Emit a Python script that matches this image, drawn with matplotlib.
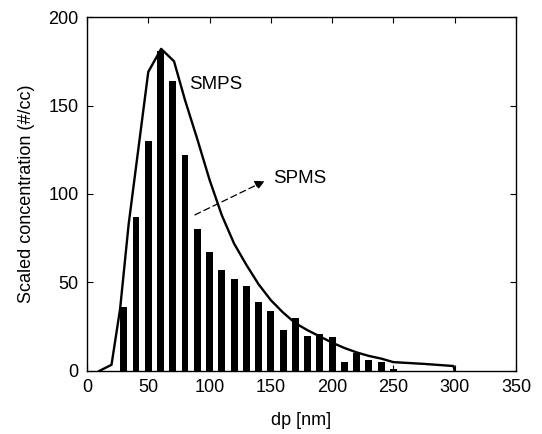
import matplotlib
matplotlib.use('Agg')
from matplotlib import pyplot as plt

plt.rcParams['font.family'] = ['Liberation Sans', 'DejaVu Sans']

# SPMS bars (scaled concentration per size bin)
spms_dp = [30, 40, 50, 60, 70, 80, 90, 100, 110, 120, 130, 140, 150, 160, 170,
           180, 190, 200, 210, 220, 230, 240, 250]
spms_conc = [36, 87, 130, 181, 164, 122, 80, 67, 57, 52, 48, 39, 34, 23, 30,
             20, 21, 19, 5, 10, 6, 5, 1]

# SMPS curve
smps_dp = [10, 20, 27, 34, 50, 60.5, 71, 80, 90, 100, 110, 120, 130, 140, 150,
           160, 170, 180, 190, 200, 210, 220, 230, 240, 250, 275, 299, 300]
smps_conc = [0, 3.5, 35, 83, 169, 182, 175, 153, 131, 108, 88, 72, 60, 49, 40,
             33, 27, 23, 19.5, 16, 13, 10.5, 8.5, 7, 5, 4, 2.8, 0]

x_ticks = [0, 50, 100, 150, 200, 250, 300, 350]
y_ticks = [0, 50, 100, 150, 200]

fig = plt.figure(figsize=(5.42, 4.34), dpi=100)
ax = fig.add_axes([0.1605, 0.1452, 0.7915, 0.8156])

ax.bar(spms_dp, spms_conc, width=5.6, color='black', zorder=2)
ax.plot(smps_dp, smps_conc, color='black', linewidth=1.7, zorder=3)

ax.text(83, 162, 'SMPS', fontsize=13.5, va='center', ha='left')
ax.text(152, 109, 'SPMS', fontsize=13.5, va='center', ha='left')
ax.annotate('', xy=(147, 108), xytext=(86, 87.5),
            arrowprops=dict(arrowstyle='-|>', linestyle=(0, (5, 3)), color='black',
                            linewidth=0.9, mutation_scale=14))

ax.set_xlim(0, 350)
ax.set_ylim(0, 200)
ax.set_xticks(x_ticks)
ax.set_yticks(y_ticks)
ax.tick_params(direction='in', top=True, right=True, length=4, labelsize=13, pad=6)
for s in ax.spines.values():
    s.set_linewidth(1.0)

ax.set_xlabel('dp [nm]', fontsize=13, labelpad=11)
ax.set_ylabel('Scaled concentration (#/cc)', fontsize=13, labelpad=10)

fig.savefig('out.png', dpi=100)
